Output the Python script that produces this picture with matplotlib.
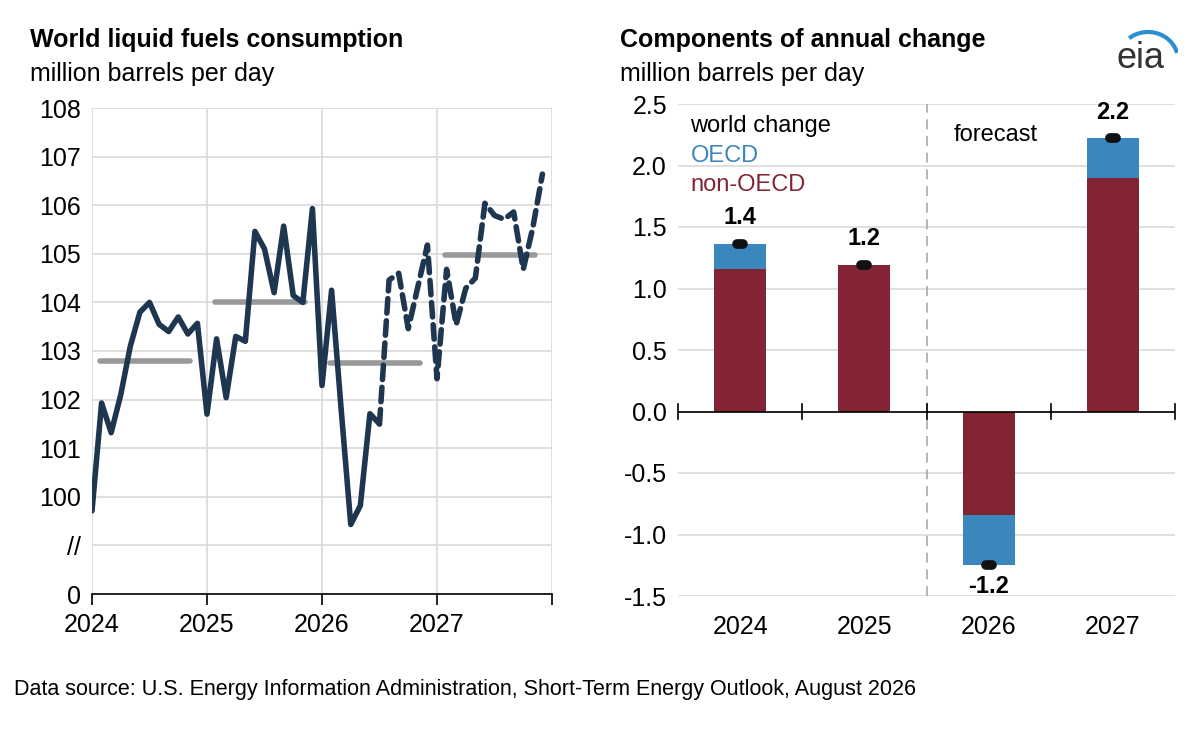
import matplotlib.pyplot as plt
import numpy as np
from matplotlib.patches import Arc

# monthly world consumption, Jan 2024 - Dec 2027
consumo = [99.71, 101.93, 101.32, 102.1, 103.1, 103.8, 104.0, 103.55, 103.4, 103.7, 103.35, 103.57,
           101.7, 103.25, 102.04, 103.3, 103.2, 105.46, 105.1, 104.2, 105.57, 104.14, 104.0, 105.93,
           102.29, 104.25, 101.8, 99.43, 99.82, 101.71, 101.5, 104.46, 104.6, 103.46, 104.32, 105.18,
           102.43, 104.68, 103.54, 104.29, 104.5, 106.04, 105.79, 105.71, 105.86, 104.68, 105.54, 106.64]
anios = [2024, 2025, 2026, 2027]
promedios = [102.8, 104.0, 102.75, 104.97]
no_ocde = [1.16, 1.19, -0.84, 1.90]
ocde = [0.20, 0.0, -0.41, 0.32]
total = [1.36, 1.19, -1.25, 2.22]
etiquetas_total = ["1.4", "1.2", "-1.2", "2.2"]

azul = "#1f3650"
gris = "#999999"
rojo = "#822433"
celeste = "#3a87bd"

plt.rcParams["font.family"] = ["Liberation Sans", "DejaVu Sans"]
fig = plt.figure(figsize=(11.98, 7.38), dpi=100)
ax1 = fig.add_axes([92/1198, 1-594/738, 460/1198, 486/738])
ax2 = fig.add_axes([678/1198, 1-596/738, 497/1198, 492/738])

# left panel
fechas = 2024 + np.arange(len(consumo)) / 12
corte = 30  # Jul 2026 starts forecast
ax1.plot(fechas[:corte + 1], consumo[:corte + 1], color=azul, lw=4, solid_capstyle="round")
ax1.plot(fechas[corte:], consumo[corte:], color=azul, lw=4, ls=(0, (2.6, 1.4)), dash_capstyle="round")
for a, p in zip(anios, promedios):
    ax1.plot([a + 0.07, a + 0.85], [p, p], color=gris, lw=4, solid_capstyle="round", zorder=1)
ax1.set_xlim(2024, 2028)
ax1.set_ylim(98, 108)
ax1.set_xticks(anios + [2028])
ax1.set_xticklabels([str(a) for a in anios] + [""])
ax1.set_yticks(range(98, 109))
ax1.set_yticklabels(["0", "//"] + [str(v) for v in range(100, 109)])
ax1.grid(True, color="#d9d9d9", lw=1.2)
ax1.set_axisbelow(True)
for s in ["top", "right", "left"]:
    ax1.spines[s].set_visible(False)
ax1.spines["bottom"].set_linewidth(1.2)
ax1.tick_params(axis="y", length=0, labelsize=18, pad=8)
ax1.tick_params(axis="x", length=8, width=1.2, labelsize=18, direction="out", pad=6)
fig.text(30/1198, 1-40/738, "World liquid fuels consumption", fontsize=18, weight="bold", va="center")
fig.text(30/1198, 1-74/738, "million barrels per day", fontsize=18, va="center")

# right panel
x = np.arange(len(anios))
ax2.bar(x, no_ocde, width=0.42, color=rojo, zorder=2)
ax2.bar(x, ocde, width=0.42, bottom=no_ocde, color=celeste, zorder=2)
for i, t in enumerate(total):
    ax2.plot([i - 0.025, i + 0.025], [t, t], color="#111111", lw=7, solid_capstyle="round", zorder=3)
    if t > 0:
        ax2.text(i, t + 0.12, etiquetas_total[i], ha="center", va="bottom", fontsize=17, weight="bold")
    else:
        ax2.text(i, t - 0.08, etiquetas_total[i], ha="center", va="top", fontsize=17, weight="bold")
ax2.set_xlim(-0.5, 3.5)
ax2.set_ylim(-1.5, 2.5)
ax2.set_yticks(np.arange(-1.5, 2.51, 0.5))
ax2.set_yticklabels([f"{v:.1f}" for v in np.arange(-1.5, 2.51, 0.5)])
ax2.set_xticks(x)
ax2.set_xticklabels([str(a) for a in anios])
ax2.grid(True, axis="y", color="#d9d9d9", lw=1.2, zorder=0)
ax2.set_axisbelow(True)
for s in ["top", "right", "left", "bottom"]:
    ax2.spines[s].set_visible(False)
ax2.axhline(0, color="black", lw=1.2, zorder=4)
for b in [-0.5, 0.5, 1.5, 2.5, 3.5]:
    ax2.plot([b, b], [-0.06, 0.06], color="black", lw=1.2, zorder=4, clip_on=False)
ax2.axvline(1.5, color="#aaaaaa", lw=1.2, ls=(0, (6, 4)), zorder=1)
ax2.tick_params(axis="y", length=0, labelsize=18, pad=8)
ax2.tick_params(axis="x", length=0, labelsize=18, pad=14)
ax2.text(-0.4, 2.32, "world change", fontsize=17, va="center")
ax2.text(-0.4, 2.08, "OECD", fontsize=17, va="center", color=celeste)
ax2.text(-0.4, 1.84, "non-OECD", fontsize=17, va="center", color=rojo)
ax2.text(1.72, 2.25, "forecast", fontsize=17, va="center")
fig.text(620/1198, 1-40/738, "Components of annual change", fontsize=18, weight="bold", va="center")
fig.text(620/1198, 1-74/738, "million barrels per day", fontsize=18, va="center")

# logo
fig.text(1140/1198, 1-58/738, "eia", fontsize=26, color="#333333", ha="center", va="center")
logo = fig.add_axes([1118/1198, 1-60/738, 60/1198, 40/738])
logo.add_patch(Arc((0.5, 0.0), 1.0, 1.4, theta1=20, theta2=120, color="#2a8fd0", lw=3))
logo.set_xlim(0, 1)
logo.set_ylim(0, 1)
logo.axis("off")

fig.text(14/1198, 1-690/738,
         "Data source: U.S. Energy Information Administration, Short-Term Energy Outlook, August 2026",
         fontsize=15.5, va="center")

fig.savefig("out.png", dpi=100)
